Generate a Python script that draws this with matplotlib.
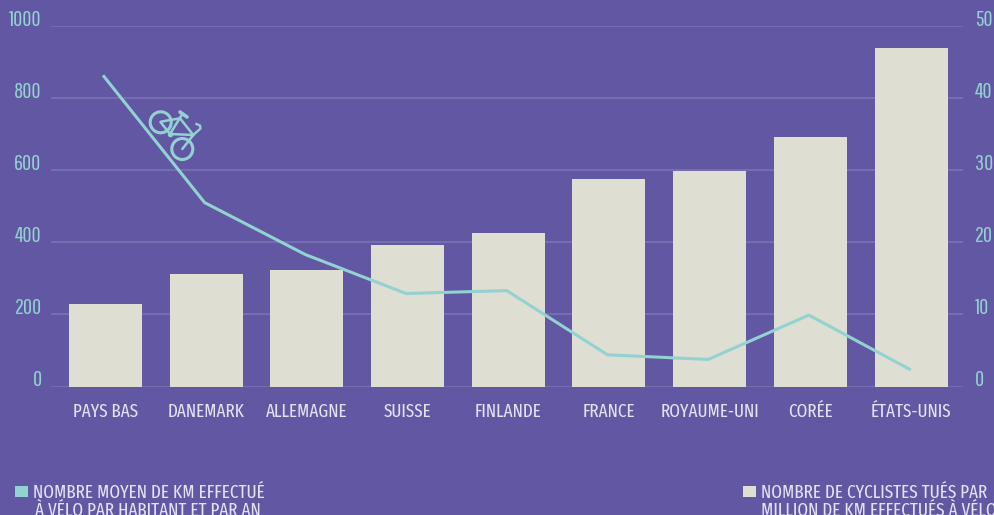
import numpy as np
import matplotlib
matplotlib.use('Agg')
import matplotlib.pyplot as plt
from matplotlib.patches import Circle, Rectangle

# data
pays = ['PAYS BAS', 'DANEMARK', 'ALLEMAGNE', 'SUISSE', 'FINLANDE', 'FRANCE',
        'ROYAUME-UNI', 'CORÉE', 'ÉTATS-UNIS']
tues = [228, 311, 322, 392, 425, 575, 597, 692, 939]
km = [43.0, 25.5, 18.3, 12.9, 13.3, 4.4, 3.75, 9.9, 2.4]
ticks_g = [0, 200, 400, 600, 800, 1000]
ticks_d = [0, 10, 20, 30, 40, 50]
leg_km = ['NOMBRE MOYEN DE KM EFFECTUÉ', 'À VÉLO PAR HABITANT ET PAR AN']
leg_tues = ['NOMBRE DE CYCLISTES TUÉS PAR', 'MILLION DE KM EFFECTUÉS À VÉLO']

fond = '#6257a3'
turquoise = '#92d2d0'
creme = '#dfded2'
texte = '#e4e2f4'
grille = '#7b71b3'

plt.rcParams['font.family'] = ['Fira Sans Extra Condensed', 'Pathway Gothic One', 'DejaVu Sans']
chiffres = ['Pathway Gothic One', 'Fira Sans Extra Condensed', 'DejaVu Sans']

W, H = 995, 515
fig = plt.figure(figsize=(W / 100, H / 100), dpi=100, facecolor=fond)
ax = fig.add_axes([51 / W, 1 - 386.5 / H, 912 / W, 360.5 / H], facecolor=fond)
ax2 = ax.twinx()

x = np.arange(len(pays))
ax.bar(x, tues, width=0.725, color=creme, zorder=2)
ax.set_xlim(-0.541, 8.516)
ax.set_ylim(0, 1000)
ax.set_yticks(ticks_g)
ax.set_yticklabels(ticks_g, va='baseline', color=turquoise, fontsize=16, family=chiffres)
ax.set_xticks(x)
ax.set_xticklabels(pays, color=texte, fontsize=13.3)
ax.tick_params(axis='y', length=0, pad=6.8)
ax.tick_params(axis='x', length=0, pad=12)
ax.grid(axis='y', color=grille, lw=1.2, zorder=1)
ax.set_axisbelow(True)

ax2.plot(x - 0.015, km, color=turquoise, lw=2.2, zorder=3)
ax2.set_ylim(0, 50)
ax2.set_yticks(ticks_d)
ax2.set_yticklabels(ticks_d, va='baseline', color=turquoise, fontsize=16, family=chiffres)
ax2.tick_params(axis='y', length=0, pad=8.6)

for a in (ax, ax2):
    for s in a.spines.values():
        s.set_visible(False)

# overlay in pixels for the legend and the bike icon
ov = fig.add_axes([0, 0, 1, 1], facecolor='none')
ov.set_xlim(0, W)
ov.set_ylim(H, 0)
ov.axis('off')

ov.add_patch(Rectangle((15, 486), 13, 10.5, color=turquoise, lw=0))
ov.add_patch(Rectangle((743, 486), 13, 10.5, color=creme, lw=0))
ov.text(33, 498, leg_km[0], color=texte, fontsize=13.4, va='baseline')
ov.text(35, 516, leg_km[1], color=texte, fontsize=13.4, va='baseline')
ov.text(761, 498, leg_tues[0], color=texte, fontsize=13.4, va='baseline')
ov.text(761, 516, leg_tues[1], color=texte, fontsize=13.4, va='baseline')

# bike
ov.add_patch(Circle((160.7, 122.3), 10.5, fill=False, ec=turquoise, lw=2.2))
ov.add_patch(Circle((182.3, 149), 10.5, fill=False, ec=turquoise, lw=2.2))
for px, py in [((160.7, 180, 193.3, 170, 160.7), (121.7, 118.3, 135, 134, 122.3)),
               ((170, 181.7), (134, 115)),
               ((193.3, 182.3), (135, 149))]:
    ov.plot(px, py, color=turquoise, lw=1.8, solid_capstyle='round', solid_joinstyle='round')
ov.plot([180, 187], [112, 117], color=turquoise, lw=2.6, solid_capstyle='round')
ov.plot([193.3, 200.5, 200, 196.5], [135, 128.5, 125.5, 124], color=turquoise, lw=1.7)
ov.plot([170], [134], 'o', color=turquoise, ms=4, mew=0)

fig.savefig('out.png', dpi=100, facecolor=fond)
